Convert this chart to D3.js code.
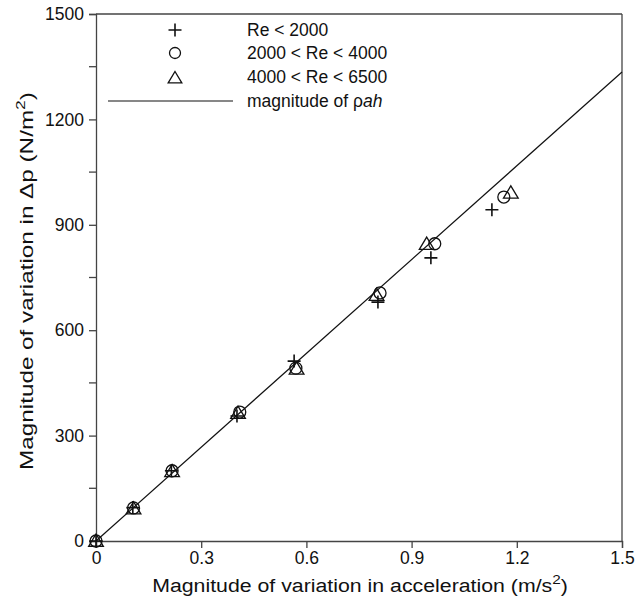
<!DOCTYPE html>
<html><head><meta charset="utf-8">
<script src="https://cdn.jsdelivr.net/npm/d3@7"></script>
<style>body{margin:0;background:#fff}svg{display:block}text{font-family:"Liberation Sans",Arial,sans-serif;fill:#111}</style>
</head><body><svg id="c" width="635" height="607"></svg>
<script>
const plusX = [0, 0.105, 0.215, 0.402, 0.565, 0.804, 0.955, 1.129];
const plusY = [0, 95, 200, 356, 512, 680, 806, 943];
const circX = [0, 0.107, 0.217, 0.41, 0.57, 0.81, 0.966, 1.163];
const circY = [0, 94, 200, 367, 492, 706, 846, 979];
const triX = [0, 0.107, 0.217, 0.405, 0.572, 0.80, 0.943, 1.183];
const triY = [0, 92, 198, 364, 490, 700, 845, 991];
const fitX = [0, 1.5];
const fitY = [0, 1335];
const xTicks = [0, 0.3, 0.6, 0.9, 1.2, 1.5];
const xTickLabels = ["0", "0.3", "0.6", "0.9", "1.2", "1.5"];
const yTicks = [0, 300, 600, 900, 1200, 1500];
const yTickLabels = ["0", "300", "600", "900", "1200", "1500"];
const yMinor = [150, 450, 750, 1050, 1350];
const legendLabels = ["Re < 2000", "2000 < Re < 4000", "4000 < Re < 6500"];

const svg = d3.select("#c");
const L = 96, R = 622, T = 14, B = 541;
const x = d3.scaleLinear().domain([0, 1.5]).range([L, R]);
const y = d3.scaleLinear().domain([0, 1500]).range([B, T]);
const axisCol = "#444";

svg.append("line").attr("x1", L).attr("x2", R).attr("y1", T).attr("y2", T).attr("stroke", axisCol).attr("stroke-width", 1.3);
svg.append("line").attr("x1", R).attr("x2", R).attr("y1", T).attr("y2", B).attr("stroke", axisCol).attr("stroke-width", 1.3);

const xa = svg.append("g").attr("transform", `translate(0,${B})`)
  .call(d3.axisBottom(x).tickValues(xTicks).tickFormat((d, i) => xTickLabels[i]).tickSize(7).tickPadding(4));
const ya = svg.append("g").attr("transform", `translate(${L},0)`)
  .call(d3.axisLeft(y).tickValues(yTicks).tickFormat((d, i) => yTickLabels[i]).tickSize(7).tickPadding(5));
ya.selectAll(".minor").data(yMinor).enter().append("line").attr("class", "minor")
  .attr("x1", 0).attr("x2", -7).attr("y1", d => y(d)).attr("y2", d => y(d));
[xa, ya].forEach(g => {
  g.attr("font-size", 17.5).attr("font-family", "'Liberation Sans',Arial,sans-serif");
  g.select(".domain").attr("stroke", axisCol).attr("stroke-width", 1.3);
  g.selectAll("line").attr("stroke", axisCol).attr("stroke-width", 1.3);
  g.selectAll("text").attr("fill", "#111");
});

svg.append("line").attr("x1", x(fitX[0])).attr("y1", y(fitY[0])).attr("x2", x(fitX[1])).attr("y2", y(fitY[1]))
  .attr("stroke", "#111").attr("stroke-width", 1.2);

const plusPath = s => `M${-s},0H${s}M0,${-s}V${s}`;
const triPath = s => `M0,${-s}L${s * 1.05},${s * 0.75}L${-s * 1.05},${s * 0.75}Z`;
const g = svg.append("g").attr("fill", "none").attr("stroke", "#111").attr("stroke-width", 1.3);
g.selectAll(".c").data(circX).enter().append("circle")
  .attr("cx", d => x(d)).attr("cy", (d, i) => y(circY[i])).attr("r", 6);
g.selectAll(".t").data(triX).enter().append("path")
  .attr("transform", (d, i) => `translate(${x(d)},${y(triY[i])})`).attr("d", triPath(7));
g.selectAll(".p").data(plusX).enter().append("path")
  .attr("transform", (d, i) => `translate(${x(d)},${y(plusY[i])})`).attr("d", plusPath(6.5)).attr("stroke-width", 1.6);

const lx = 175, tx = 247;
const ly = [30, 53, 77];
const lg = svg.append("g");
lg.append("path").attr("transform", `translate(${lx},${ly[0]})`).attr("d", plusPath(6.5)).attr("stroke", "#111").attr("stroke-width", 1.6).attr("fill", "none");
lg.append("circle").attr("cx", lx).attr("cy", ly[1]).attr("r", 5.5).attr("stroke", "#111").attr("stroke-width", 1.3).attr("fill", "none");
lg.append("path").attr("transform", `translate(${lx},${ly[2] + 1})`).attr("d", triPath(6.5)).attr("stroke", "#111").attr("stroke-width", 1.3).attr("fill", "none");
lg.append("line").attr("x1", 108).attr("x2", 233).attr("y1", 101).attr("y2", 101).attr("stroke", "#111").attr("stroke-width", 1.2);
legendLabels.forEach((t, i) => lg.append("text").attr("x", tx).attr("y", ly[i] + 6).attr("font-size", 17.5).text(t));
const lt = lg.append("text").attr("x", tx).attr("y", 107).attr("font-size", 17.5);
lt.append("tspan").text("magnitude of ρ");
lt.append("tspan").attr("font-style", "italic").text("ah");

// axis titles: stretched horizontally to match the reference width
function title(parent, main, tail, fs, target) {
  const t = parent.append("text").attr("x", 0).attr("y", 0).attr("text-anchor", "middle").attr("font-size", fs);
  t.append("tspan").text(main);
  t.append("tspan").attr("font-size", fs * 0.72).attr("dy", -fs * 0.42).text("2");
  t.append("tspan").attr("dy", fs * 0.42).text(")");
  const w = t.node().getBBox().width;
  t.attr("transform", `scale(${target / w},1)`);
  return t;
}
const xg = svg.append("g").attr("transform", "translate(360,592)");
title(xg, "Magnitude of variation in acceleration (m/s", "", 19, 416);
const yg = svg.append("g").attr("transform", "translate(33,281) rotate(-90)");
title(yg, "Magnitude of variation in Δp (N/m", "", 19, 378);
</script></body></html>
